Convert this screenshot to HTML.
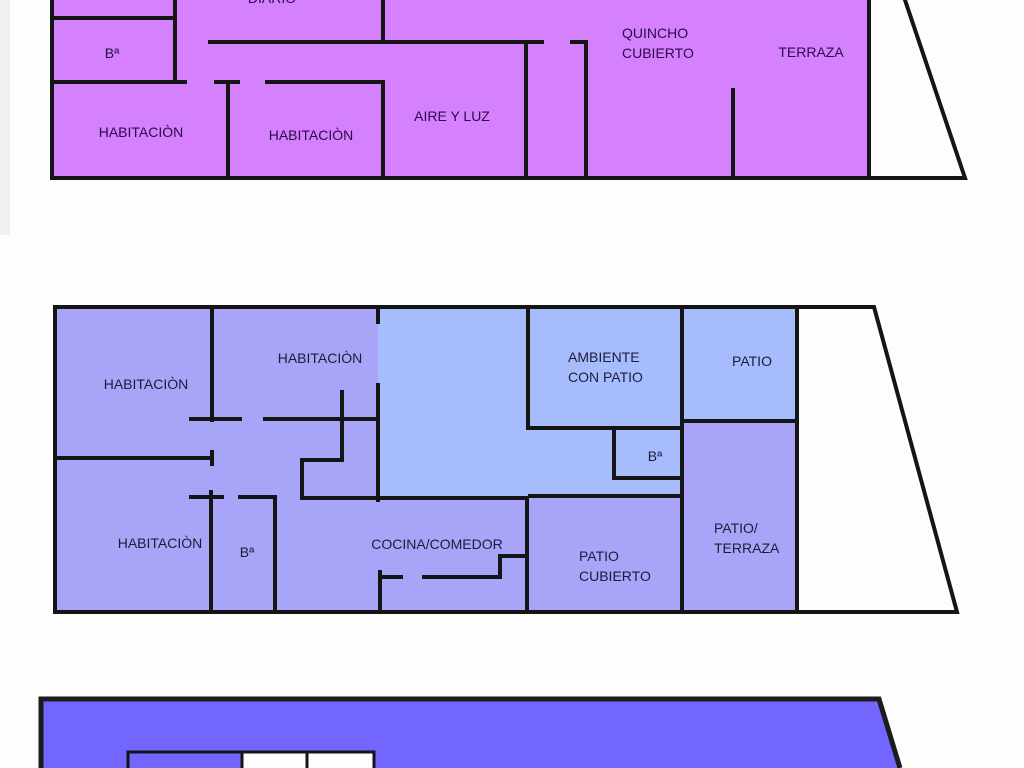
<!DOCTYPE html>
<html><head><meta charset="utf-8"><style>
html,body{margin:0;padding:0;background:#fdfdfd;}
svg{display:block}
text{font-family:"Liberation Sans",sans-serif;font-size:14px;}
</style></head><body>
<svg width="1024" height="768" viewBox="0 0 1024 768" xmlns="http://www.w3.org/2000/svg">
<rect x="0" y="0" width="1024" height="768" fill="#fdfdfd"/>
<rect x="0" y="0" width="10" height="235" fill="#f1f1f1"/>

<!-- TOP PLAN -->
<rect x="52" y="0" width="817" height="178" fill="#d580fc"/>
<g stroke="#151515" stroke-width="4" fill="none" stroke-linecap="square">
  <path d="M52 0 V178 H965 L905 0"/>
  <line x1="869" y1="0" x2="869" y2="178"/>
  <line x1="175" y1="0" x2="175" y2="82"/>
  <line x1="55" y1="18" x2="175" y2="18"/>
  <line x1="55" y1="82" x2="185" y2="82"/>
  <line x1="210" y1="42" x2="542" y2="42"/>
  <line x1="572" y1="42" x2="586" y2="42"/>
  <line x1="383" y1="0" x2="383" y2="42"/>
  <line x1="526" y1="42" x2="526" y2="178"/>
  <line x1="586" y1="42" x2="586" y2="178"/>
  <line x1="216" y1="82" x2="238" y2="82"/>
  <line x1="267" y1="82" x2="383" y2="82"/>
  <line x1="228" y1="82" x2="228" y2="178"/>
  <line x1="383" y1="82" x2="383" y2="178"/>
  <line x1="733" y1="90" x2="733" y2="178"/>
</g>
<g fill="#2a0a4a">
  <text x="272" y="3" text-anchor="middle">DIARIO</text>
  <text x="112" y="58" text-anchor="middle">Bª</text>
  <text x="141" y="137" text-anchor="middle">HABITACIÒN</text>
  <text x="311" y="140" text-anchor="middle">HABITACIÒN</text>
  <text x="452" y="121" text-anchor="middle">AIRE Y LUZ</text>
  <text x="622" y="38">QUINCHO</text>
  <text x="622" y="58">CUBIERTO</text>
  <text x="811" y="57" text-anchor="middle">TERRAZA</text>
</g>

<!-- MIDDLE PLAN -->
<rect x="55" y="307" width="742" height="305" fill="#a8a4f8"/>
<rect x="378" y="307" width="304" height="190" fill="#a6bcfc"/>
<rect x="682" y="307" width="115" height="114" fill="#a6bcfc"/>
<g stroke="#151515" stroke-width="4" fill="none" stroke-linecap="square">
  <path d="M55 307 H874 L957 612 H55 Z"/>
  <line x1="797" y1="307" x2="797" y2="612"/>
  <line x1="212" y1="309" x2="212" y2="420"/>
  <line x1="191" y1="419" x2="240" y2="419"/>
  <line x1="265" y1="419" x2="378" y2="419"/>
  <line x1="342" y1="392" x2="342" y2="460"/>
  <line x1="302" y1="460" x2="342" y2="460"/>
  <line x1="302" y1="460" x2="302" y2="498"/>
  <line x1="302" y1="498" x2="527" y2="498"/>
  <line x1="530" y1="496" x2="682" y2="496"/>
  <line x1="378" y1="309" x2="378" y2="322"/>
  <line x1="378" y1="385" x2="378" y2="500"/>
  <line x1="57" y1="458" x2="212" y2="458"/>
  <line x1="212" y1="452" x2="212" y2="464"/>
  <line x1="191" y1="497" x2="222" y2="497"/>
  <line x1="240" y1="497" x2="275" y2="497"/>
  <line x1="275" y1="497" x2="275" y2="612"/>
  <line x1="211" y1="492" x2="211" y2="612"/>
  <line x1="527" y1="498" x2="527" y2="612"/>
  <line x1="500" y1="556" x2="527" y2="556"/>
  <line x1="500" y1="556" x2="500" y2="577"/>
  <line x1="424" y1="577" x2="500" y2="577"/>
  <line x1="380" y1="577" x2="401" y2="577"/>
  <line x1="380" y1="572" x2="380" y2="612"/>
  <line x1="528" y1="309" x2="528" y2="428"/>
  <line x1="528" y1="428" x2="682" y2="428"/>
  <line x1="682" y1="309" x2="682" y2="612"/>
  <path d="M682 478 H614 V430"/>
  <line x1="685" y1="421" x2="797" y2="421"/>
</g>
<g fill="#1c1c3a">
  <text x="146" y="389" text-anchor="middle">HABITACIÒN</text>
  <text x="320" y="363" text-anchor="middle">HABITACIÒN</text>
  <text x="160" y="548" text-anchor="middle">HABITACIÒN</text>
  <text x="247" y="557" text-anchor="middle">Bª</text>
  <text x="437" y="549" text-anchor="middle">COCINA/COMEDOR</text>
  <text x="568" y="362">AMBIENTE</text>
  <text x="568" y="382">CON PATIO</text>
  <text x="752" y="366" text-anchor="middle">PATIO</text>
  <text x="655" y="461" text-anchor="middle">Bª</text>
  <text x="714" y="533">PATIO/</text>
  <text x="714" y="553">TERRAZA</text>
  <text x="579" y="561">PATIO</text>
  <text x="579" y="581">CUBIERTO</text>
</g>

<!-- BOTTOM PLAN -->
<path d="M41 699 H879 L900 768 H41 Z" fill="#7366fe"/>
<g stroke="#1c1c1c" stroke-width="5" fill="none">
  <path d="M41 768 V699 H879 L900 768"/>
</g>
<rect x="242" y="752" width="132" height="16" fill="#fdfdfd"/>
<g stroke="#151515" stroke-width="3" fill="none">
  <path d="M128 768 V752 H374 V768"/>
  <line x1="242" y1="752" x2="242" y2="768"/>
  <line x1="307" y1="752" x2="307" y2="768"/>
</g>
</svg>
</body></html>
